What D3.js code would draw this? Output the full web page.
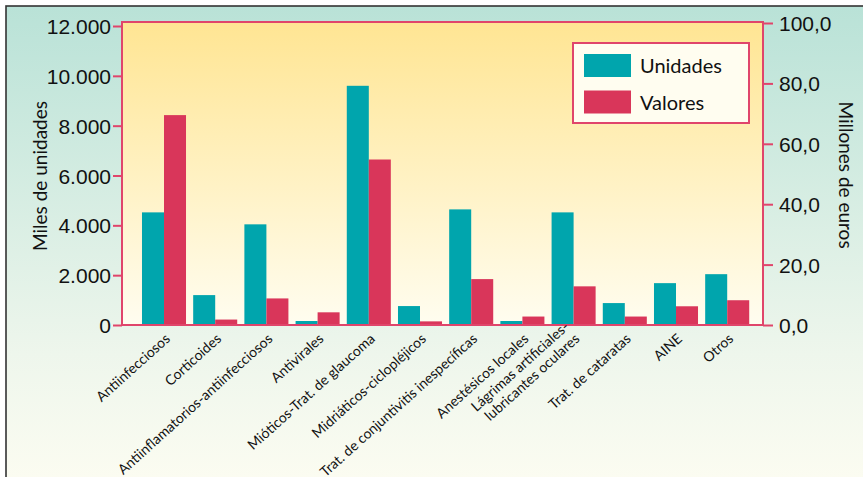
<!DOCTYPE html>
<html>
<head>
<meta charset="utf-8">
<script src="https://cdn.jsdelivr.net/npm/d3@7"></script>
<style>
  html, body { margin: 0; padding: 0; background: #fff; }
  svg { display: block; font-family: Lato, "Noto Sans", sans-serif; }
</style>
</head>
<body>
<div id="chart"></div>
<script>
// Chart data
const categories = [
  'Antiinfecciosos',
  'Corticoides',
  'Antiinflamatorios-antiinfecciosos',
  'Antivirales',
  'Mióticos-Trat. de glaucoma',
  'Midriáticos-ciclopléjicos',
  'Trat. de conjuntivitis inespecíficas',
  'Anestésicos locales',
  'Lágrimas artificiales-\nlubricantes oculares',
  'Trat. de cataratas',
  'AINE',
  'Otros',
];
const unidades = [4520, 1200, 4040, 160, 9600, 760, 4640, 160, 4520, 880, 1680, 2040]; // miles de unidades
const valores = [69.5, 1.8, 8.8, 4.2, 54.8, 1.2, 15.2, 2.8, 12.8, 2.8, 6.2, 8.2]; // millones de euros
const seriesNames = ['Unidades', 'Valores'];
const leftTicks = [0, 2000, 4000, 6000, 8000, 10000, 12000];
const rightTicks = [0, 20, 40, 60, 80, 100];

const colors = { Unidades: '#00a5ad', Valores: '#d9365a' };
const axisRed = '#e0456b';

const width = 863;
const height = 477;
const plot = { left: 122, right: 763, top: 22, bottom: 325 };

const fmtLeft = (d) => (d === 0 ? '0' : d3.format(',')(d).replace(/,/g, '.'));
const fmtRight = (d) => d3.format('.1f')(d).replace('.', ',');

const svg = d3
  .select('#chart')
  .append('svg')
  .attr('width', width)
  .attr('height', height);

const defs = svg.append('defs');

const outerGrad = defs
  .append('linearGradient')
  .attr('id', 'outer-bg')
  .attr('x1', 0).attr('y1', 0).attr('x2', 0).attr('y2', 1);
outerGrad.append('stop').attr('offset', '0%').attr('stop-color', '#b9e2d7');
outerGrad.append('stop').attr('offset', '70%').attr('stop-color', '#eef6ec');
outerGrad.append('stop').attr('offset', '100%').attr('stop-color', '#fefdf2');

const plotGrad = defs
  .append('linearGradient')
  .attr('id', 'plot-bg')
  .attr('x1', 0).attr('y1', 0).attr('x2', 0).attr('y2', 1);
plotGrad.append('stop').attr('offset', '0%').attr('stop-color', '#ffe593');
plotGrad.append('stop').attr('offset', '100%').attr('stop-color', '#fffdf0');

// outer panel with dark frame (open at right and bottom, as in the source)
svg
  .append('rect')
  .attr('x', 6)
  .attr('y', 6)
  .attr('width', width + 20)
  .attr('height', height + 20)
  .attr('fill', 'url(#outer-bg)')
  .attr('stroke', '#333')
  .attr('stroke-width', 1.6);

// plot area
svg
  .append('rect')
  .attr('x', plot.left)
  .attr('y', plot.top)
  .attr('width', plot.right - plot.left)
  .attr('height', plot.bottom - plot.top)
  .attr('fill', 'url(#plot-bg)')
  .attr('stroke', axisRed)
  .attr('stroke-width', 2);

// scales
const xScale = d3
  .scaleBand()
  .domain(categories)
  .range([138.4, 752.8])
  .paddingInner(0.14)
  .paddingOuter(0.07);

const xInner = d3
  .scaleBand()
  .domain(seriesNames)
  .range([0, xScale.bandwidth()]);

const yLeft = d3.scaleLinear().domain([0, 12000]).range([325, 26]);
const yRight = d3.scaleLinear().domain([0, 100]).range([325, 23]);

// bars
const rows = categories.map((c, i) => ({
  cat: c,
  values: [
    { key: 'Unidades', value: unidades[i], y: yLeft },
    { key: 'Valores', value: valores[i], y: yRight },
  ],
}));

const groups = svg
  .append('g')
  .attr('class', 'bars')
  .selectAll('g.group')
  .data(rows)
  .join('g')
  .attr('class', 'group')
  .attr('transform', (d) => `translate(${xScale(d.cat)},0)`);

groups
  .selectAll('rect')
  .data((d) => d.values)
  .join('rect')
  .attr('x', (d) => xInner(d.key))
  .attr('width', xInner.bandwidth())
  .attr('y', (d) => d.y(d.value))
  .attr('height', (d) => d.y(0) - d.y(d.value))
  .attr('fill', (d) => colors[d.key]);

// baseline
svg
  .append('line')
  .attr('x1', plot.left)
  .attr('x2', plot.right)
  .attr('y1', plot.bottom)
  .attr('y2', plot.bottom)
  .attr('stroke', axisRed)
  .attr('stroke-width', 2);

// left axis
const leftAxis = d3
  .axisLeft(yLeft)
  .tickValues(leftTicks)
  .tickSize(9)
  .tickPadding(2)
  .tickFormat(fmtLeft);

const gLeft = svg
  .append('g')
  .attr('class', 'axis left')
  .attr('transform', `translate(${plot.left},0)`)
  .call(leftAxis);
gLeft.select('.domain').remove();
gLeft.selectAll('line').attr('stroke', axisRed).attr('stroke-width', 2);
gLeft
  .selectAll('text')
  .attr('fill', '#111')
  .style('font-size', '21px')
  .attr('dy', '0.36em');

// right axis
const rightAxis = d3
  .axisRight(yRight)
  .tickValues(rightTicks)
  .tickSize(10)
  .tickPadding(6)
  .tickFormat(fmtRight);

const gRight = svg
  .append('g')
  .attr('class', 'axis right')
  .attr('transform', `translate(${plot.right},0)`)
  .call(rightAxis);
gRight.select('.domain').remove();
gRight.selectAll('line').attr('stroke', axisRed).attr('stroke-width', 2);
gRight
  .selectAll('text')
  .attr('fill', '#111')
  .style('font-size', '21px')
  .attr('dy', '0.36em');

// axis titles
svg
  .append('text')
  .attr('transform', 'translate(47,176) rotate(-90)')
  .attr('text-anchor', 'middle')
  .attr('fill', '#111')
  .style('font-size', '19px')
  .text('Miles de unidades');

svg
  .append('text')
  .attr('transform', 'translate(839,175) rotate(90)')
  .attr('text-anchor', 'middle')
  .attr('fill', '#111')
  .style('font-size', '19px')
  .text('Millones de euros');

// category labels, rotated
const labels = svg
  .append('g')
  .attr('class', 'x-labels')
  .selectAll('text')
  .data(categories)
  .join('text')
  .attr('transform', (d) => {
    const cx = xScale(d) + xScale.bandwidth() / 2 + 7;
    return `translate(${cx},340) rotate(-42)`;
  })
  .attr('text-anchor', 'end')
  .attr('fill', '#111')
  .style('font-size', '14px');

labels.each(function (d) {
  const lines = d.split('\n');
  d3.select(this)
    .selectAll('tspan')
    .data(lines)
    .join('tspan')
    .attr('x', 0)
    .attr('y', (l, i) => `${(i - (lines.length - 1)) * 1.15}em`)
    .text((l) => l);
});

// legend
const legend = svg.append('g').attr('class', 'legend');
legend
  .append('rect')
  .attr('x', 573)
  .attr('y', 43)
  .attr('width', 176)
  .attr('height', 80)
  .attr('fill', '#fffdf0')
  .attr('stroke', axisRed)
  .attr('stroke-width', 2);

const legendItems = legend
  .selectAll('g.item')
  .data(seriesNames)
  .join('g')
  .attr('class', 'item')
  .attr('transform', (d, i) => `translate(584,${54 + i * 36.5})`);

legendItems
  .append('rect')
  .attr('width', 47)
  .attr('height', 23)
  .attr('fill', (d) => colors[d]);

legendItems
  .append('text')
  .attr('x', 56)
  .attr('y', 19)
  .attr('fill', '#111')
  .style('font-size', '20px')
  .text((d) => d);
</script>
</body>
</html>
